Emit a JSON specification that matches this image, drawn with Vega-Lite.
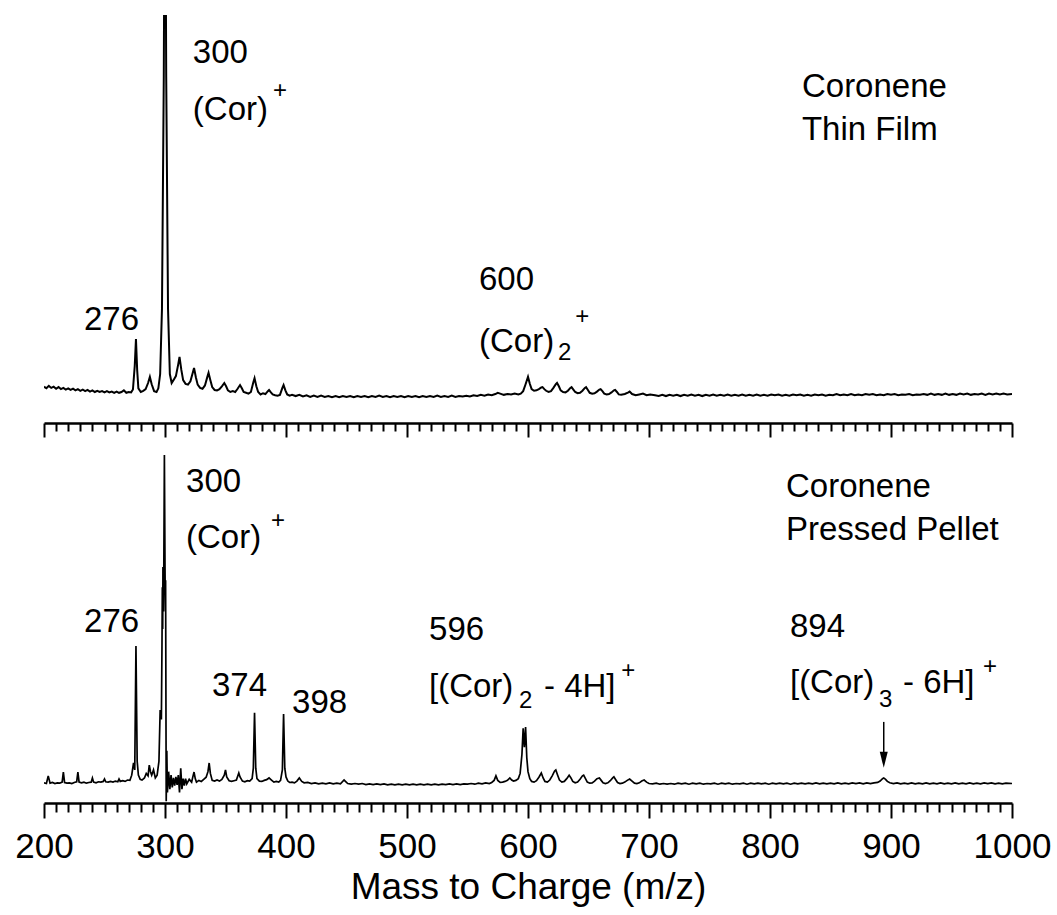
{
"$schema":"https://vega.github.io/schema/vega-lite/v6.json",
"padding":{"left":14,"top":15,"right":5,"bottom":5},
"bounds":"flush",
"spacing":32,
"config":{"view":{"stroke":null},"axis":{"grid":false,"domainColor":"black","domainWidth":2.5,"tickColor":"black","tickWidth":2,"labelColor":"black","titleColor":"black","labelFont":"Liberation Sans","titleFont":"Liberation Sans","labelFontSize":35,"titleFontSize":37,"titleFontWeight":"normal"}},
"datasets":{
"thin":[{"mz":200,"v":8.9},{"mz":202,"v":8.5},{"mz":204,"v":9.1},{"mz":206,"v":8.6},{"mz":208,"v":8.9},{"mz":210,"v":8.4},{"mz":212,"v":8.8},{"mz":214,"v":8.3},{"mz":216,"v":8.6},{"mz":218,"v":8.2},{"mz":220,"v":8.5},{"mz":222,"v":8.1},{"mz":224,"v":8.4},{"mz":226,"v":8.0},{"mz":228,"v":8.3},{"mz":230,"v":7.9},{"mz":232,"v":8.2},{"mz":234,"v":7.8},{"mz":236,"v":8.1},{"mz":238,"v":7.7},{"mz":240,"v":8.0},{"mz":242,"v":7.6},{"mz":244,"v":7.9},{"mz":246,"v":7.6},{"mz":248,"v":7.8},{"mz":250,"v":7.5},{"mz":252,"v":7.8},{"mz":254,"v":7.5},{"mz":256,"v":7.7},{"mz":258,"v":7.4},{"mz":260,"v":7.7},{"mz":262,"v":7.4},{"mz":264,"v":7.6},{"mz":266,"v":8.0},{"mz":268,"v":7.4},{"mz":270,"v":7.6},{"mz":272,"v":7.5},{"mz":273.5,"v":8.2},{"mz":275,"v":14},{"mz":276,"v":20.6},{"mz":277,"v":13},{"mz":278,"v":8.5},{"mz":280,"v":7.6},{"mz":282,"v":7.9},{"mz":284,"v":8.3},{"mz":286,"v":9.8},{"mz":287.5,"v":11.3},{"mz":289,"v":9.5},{"mz":291,"v":7.8},{"mz":293,"v":7.6},{"mz":294.5,"v":8.5},{"mz":296,"v":12},{"mz":297.5,"v":28},{"mz":299,"v":85},{"mz":300,"v":160},{"mz":301,"v":85},{"mz":302.5,"v":28},{"mz":304,"v":12},{"mz":305.5,"v":9.8},{"mz":307,"v":10.5},{"mz":309,"v":11.5},{"mz":311,"v":14.5},{"mz":312,"v":16.2},{"mz":313.5,"v":13},{"mz":315,"v":10.5},{"mz":317,"v":9.6},{"mz":319,"v":9.4},{"mz":321,"v":10.2},{"mz":323,"v":12.4},{"mz":324,"v":13.5},{"mz":325.5,"v":11.2},{"mz":327,"v":9.4},{"mz":329,"v":8.6},{"mz":331,"v":8.4},{"mz":333,"v":9.2},{"mz":335,"v":11.3},{"mz":336,"v":12.3},{"mz":337.5,"v":10.5},{"mz":339,"v":8.8},{"mz":341,"v":8.1},{"mz":343,"v":8.0},{"mz":345,"v":8.3},{"mz":347,"v":9.0},{"mz":349,"v":9.8},{"mz":350.5,"v":9.0},{"mz":352,"v":8.0},{"mz":354,"v":7.6},{"mz":356,"v":7.8},{"mz":358,"v":7.6},{"mz":360,"v":8.4},{"mz":362,"v":9.3},{"mz":363.5,"v":8.5},{"mz":365,"v":7.6},{"mz":367,"v":7.4},{"mz":369,"v":7.2},{"mz":371,"v":7.6},{"mz":373,"v":10.0},{"mz":374,"v":11.0},{"mz":375.5,"v":9.0},{"mz":377,"v":7.6},{"mz":379,"v":7.0},{"mz":381,"v":7.3},{"mz":383,"v":7.1},{"mz":385,"v":7.8},{"mz":386,"v":8.1},{"mz":387.5,"v":7.5},{"mz":389,"v":7.0},{"mz":391,"v":6.8},{"mz":393,"v":6.7},{"mz":395,"v":6.9},{"mz":397,"v":8.6},{"mz":398,"v":9.3},{"mz":399.5,"v":8.0},{"mz":401,"v":7.0},{"mz":403,"v":6.7},{"mz":405,"v":6.9},{"mz":408,"v":6.6},{"mz":411,"v":6.9},{"mz":414,"v":6.5},{"mz":417,"v":6.8},{"mz":420,"v":6.4},{"mz":423,"v":6.7},{"mz":426,"v":6.4},{"mz":429,"v":6.7},{"mz":432,"v":6.4},{"mz":435,"v":6.6},{"mz":438,"v":6.3},{"mz":441,"v":6.6},{"mz":444,"v":6.3},{"mz":447,"v":6.6},{"mz":450,"v":6.4},{"mz":453,"v":6.6},{"mz":456,"v":6.3},{"mz":459,"v":6.6},{"mz":462,"v":6.4},{"mz":465,"v":6.6},{"mz":468,"v":6.3},{"mz":471,"v":6.6},{"mz":474,"v":6.4},{"mz":477,"v":6.7},{"mz":480,"v":6.4},{"mz":483,"v":6.6},{"mz":486,"v":6.3},{"mz":489,"v":6.6},{"mz":492,"v":6.4},{"mz":495,"v":6.6},{"mz":498,"v":6.3},{"mz":501,"v":6.6},{"mz":504,"v":6.4},{"mz":507,"v":6.6},{"mz":510,"v":6.3},{"mz":513,"v":6.6},{"mz":516,"v":6.4},{"mz":519,"v":6.6},{"mz":522,"v":6.4},{"mz":525,"v":6.7},{"mz":528,"v":6.4},{"mz":531,"v":6.6},{"mz":534,"v":6.4},{"mz":537,"v":6.7},{"mz":540,"v":6.4},{"mz":543,"v":6.6},{"mz":546,"v":6.5},{"mz":549,"v":6.7},{"mz":552,"v":6.5},{"mz":555,"v":6.8},{"mz":558,"v":6.6},{"mz":561,"v":6.9},{"mz":564,"v":6.7},{"mz":567,"v":7.0},{"mz":570,"v":6.8},{"mz":573,"v":7.1},{"mz":575,"v":7.4},{"mz":577,"v":7.2},{"mz":580,"v":6.9},{"mz":583,"v":7.1},{"mz":586,"v":7.0},{"mz":589,"v":7.2},{"mz":592,"v":7.0},{"mz":594,"v":7.2},{"mz":596,"v":7.8},{"mz":598,"v":9.5},{"mz":600,"v":11.3},{"mz":601.5,"v":9.6},{"mz":603,"v":8.3},{"mz":605,"v":7.9},{"mz":607,"v":8.0},{"mz":609,"v":8.3},{"mz":611,"v":8.7},{"mz":612,"v":8.8},{"mz":613.5,"v":8.3},{"mz":615,"v":7.9},{"mz":617,"v":7.6},{"mz":619,"v":7.8},{"mz":621,"v":8.6},{"mz":623,"v":9.5},{"mz":624,"v":9.8},{"mz":625.5,"v":9.0},{"mz":627,"v":8.0},{"mz":629,"v":7.6},{"mz":631,"v":7.5},{"mz":633,"v":7.9},{"mz":635,"v":8.6},{"mz":636,"v":8.8},{"mz":637.5,"v":8.2},{"mz":639,"v":7.6},{"mz":641,"v":7.3},{"mz":643,"v":7.4},{"mz":645,"v":7.9},{"mz":647,"v":8.6},{"mz":648,"v":8.8},{"mz":649.5,"v":8.1},{"mz":651,"v":7.4},{"mz":653,"v":7.2},{"mz":655,"v":7.3},{"mz":657,"v":7.7},{"mz":659,"v":8.2},{"mz":660,"v":8.3},{"mz":661.5,"v":7.8},{"mz":663,"v":7.2},{"mz":665,"v":7.0},{"mz":667,"v":7.1},{"mz":669,"v":7.5},{"mz":671,"v":8.0},{"mz":672,"v":8.1},{"mz":673.5,"v":7.6},{"mz":675,"v":7.0},{"mz":677,"v":6.9},{"mz":680,"v":7.1},{"mz":683,"v":7.5},{"mz":684,"v":7.7},{"mz":686,"v":7.1},{"mz":689,"v":6.8},{"mz":692,"v":7.0},{"mz":695,"v":7.2},{"mz":698,"v":6.8},{"mz":701,"v":7.0},{"mz":705,"v":6.8},{"mz":708,"v":6.6},{"mz":711,"v":6.9},{"mz":714,"v":6.6},{"mz":717,"v":6.9},{"mz":720,"v":6.7},{"mz":723,"v":6.9},{"mz":726,"v":6.6},{"mz":729,"v":6.9},{"mz":732,"v":6.7},{"mz":735,"v":7.0},{"mz":738,"v":6.7},{"mz":741,"v":6.9},{"mz":744,"v":6.6},{"mz":747,"v":6.9},{"mz":750,"v":6.7},{"mz":753,"v":7.0},{"mz":756,"v":6.7},{"mz":759,"v":6.9},{"mz":762,"v":6.7},{"mz":765,"v":7.0},{"mz":768,"v":6.7},{"mz":771,"v":6.9},{"mz":774,"v":6.7},{"mz":777,"v":7.0},{"mz":780,"v":6.7},{"mz":783,"v":6.9},{"mz":786,"v":6.7},{"mz":789,"v":7.0},{"mz":792,"v":6.7},{"mz":795,"v":6.9},{"mz":798,"v":6.7},{"mz":801,"v":7.0},{"mz":804,"v":6.8},{"mz":807,"v":7.0},{"mz":810,"v":6.7},{"mz":813,"v":6.9},{"mz":816,"v":6.7},{"mz":819,"v":7.0},{"mz":822,"v":6.8},{"mz":825,"v":7.0},{"mz":828,"v":6.7},{"mz":831,"v":6.9},{"mz":834,"v":6.7},{"mz":837,"v":7.0},{"mz":840,"v":6.8},{"mz":843,"v":7.0},{"mz":846,"v":6.7},{"mz":849,"v":6.9},{"mz":852,"v":6.8},{"mz":855,"v":7.1},{"mz":858,"v":6.8},{"mz":861,"v":7.0},{"mz":864,"v":6.8},{"mz":867,"v":7.1},{"mz":870,"v":6.8},{"mz":873,"v":7.0},{"mz":876,"v":6.8},{"mz":879,"v":7.1},{"mz":882,"v":6.9},{"mz":885,"v":7.1},{"mz":888,"v":6.8},{"mz":891,"v":7.0},{"mz":894,"v":6.8},{"mz":897,"v":7.1},{"mz":900,"v":6.9},{"mz":903,"v":7.1},{"mz":906,"v":6.8},{"mz":909,"v":7.0},{"mz":912,"v":6.9},{"mz":915,"v":7.1},{"mz":918,"v":6.8},{"mz":921,"v":7.0},{"mz":924,"v":6.9},{"mz":927,"v":7.1},{"mz":930,"v":6.9},{"mz":933,"v":7.2},{"mz":936,"v":6.9},{"mz":939,"v":7.1},{"mz":942,"v":6.9},{"mz":945,"v":7.2},{"mz":948,"v":6.9},{"mz":951,"v":7.1},{"mz":954,"v":6.9},{"mz":957,"v":7.2},{"mz":960,"v":7.0},{"mz":963,"v":7.2},{"mz":966,"v":6.9},{"mz":969,"v":7.1},{"mz":972,"v":7.0},{"mz":975,"v":7.2},{"mz":978,"v":6.9},{"mz":981,"v":7.2},{"mz":984,"v":7.0},{"mz":987,"v":7.2},{"mz":990,"v":7.0},{"mz":993,"v":7.2},{"mz":996,"v":7.0},{"mz":1000,"v":7.1}],
"pellet":[{"mz":200,"v":5.8},{"mz":202,"v":5.6},{"mz":203.5,"v":7.8},{"mz":205,"v":5.7},{"mz":207,"v":5.9},{"mz":209,"v":5.6},{"mz":211,"v":5.8},{"mz":213,"v":5.7},{"mz":215,"v":6.0},{"mz":216,"v":8.9},{"mz":217,"v":5.9},{"mz":219,"v":5.7},{"mz":221,"v":5.8},{"mz":223,"v":5.6},{"mz":225,"v":5.9},{"mz":227,"v":6.1},{"mz":228,"v":8.9},{"mz":229,"v":6.0},{"mz":231,"v":5.8},{"mz":233,"v":6.0},{"mz":235,"v":5.7},{"mz":237,"v":5.9},{"mz":239,"v":6.0},{"mz":240,"v":7.2},{"mz":241,"v":6.0},{"mz":243,"v":5.8},{"mz":245,"v":6.1},{"mz":247,"v":6.0},{"mz":249,"v":6.2},{"mz":250,"v":6.9},{"mz":251,"v":6.1},{"mz":253,"v":6.0},{"mz":255,"v":6.2},{"mz":257,"v":6.0},{"mz":259,"v":6.3},{"mz":261,"v":6.1},{"mz":262,"v":6.9},{"mz":263,"v":6.2},{"mz":265,"v":6.4},{"mz":267,"v":6.2},{"mz":269,"v":6.6},{"mz":271,"v":6.5},{"mz":272.5,"v":8.0},{"mz":274,"v":11.5},{"mz":275,"v":9.5},{"mz":276,"v":45.1},{"mz":277,"v":12},{"mz":278,"v":8},{"mz":279.5,"v":6.8},{"mz":281,"v":6.6},{"mz":283,"v":7.2},{"mz":284.5,"v":8.5},{"mz":286,"v":7.8},{"mz":287,"v":10.9},{"mz":288,"v":9.0},{"mz":289,"v":8.0},{"mz":290.5,"v":9.5},{"mz":292,"v":7.2},{"mz":293.5,"v":8.0},{"mz":295,"v":12},{"mz":296,"v":26.7},{"mz":297,"v":24},{"mz":297.5,"v":45},{"mz":297.8,"v":62},{"mz":298.1,"v":50},{"mz":298.3,"v":67.8},{"mz":298.6,"v":55},{"mz":299,"v":66},{"mz":299.5,"v":100},{"mz":300,"v":68},{"mz":300.3,"v":55},{"mz":300.5,"v":64},{"mz":301,"v":0.5},{"mz":301.5,"v":15},{"mz":302,"v":3},{"mz":303,"v":9},{"mz":304,"v":4.0},{"mz":305,"v":8.0},{"mz":306,"v":4.5},{"mz":307,"v":7.2},{"mz":308,"v":5.0},{"mz":309,"v":7.5},{"mz":310,"v":5.2},{"mz":311,"v":8.0},{"mz":312,"v":3.0},{"mz":313,"v":10},{"mz":314,"v":4.0},{"mz":315,"v":7.0},{"mz":316,"v":5.0},{"mz":317,"v":7.0},{"mz":318,"v":5.5},{"mz":320,"v":6.8},{"mz":322,"v":6.0},{"mz":323,"v":7.5},{"mz":324,"v":8.9},{"mz":325,"v":7.0},{"mz":326,"v":6.0},{"mz":328,"v":6.5},{"mz":330,"v":6.2},{"mz":332,"v":6.8},{"mz":334,"v":7.4},{"mz":335.5,"v":9},{"mz":336.5,"v":11.5},{"mz":337.5,"v":8.5},{"mz":339,"v":6.5},{"mz":341,"v":6.3},{"mz":343,"v":6.6},{"mz":345,"v":6.3},{"mz":347,"v":6.8},{"mz":349,"v":8.0},{"mz":350,"v":9.5},{"mz":351,"v":7.5},{"mz":353,"v":6.4},{"mz":355,"v":6.2},{"mz":357,"v":6.4},{"mz":359,"v":6.6},{"mz":361,"v":8.6},{"mz":362,"v":7.5},{"mz":364,"v":6.3},{"mz":366,"v":6.1},{"mz":368,"v":6.4},{"mz":370,"v":6.3},{"mz":372,"v":7.0},{"mz":373,"v":10},{"mz":374,"v":25.9},{"mz":375,"v":10},{"mz":376,"v":7.0},{"mz":378,"v":6.3},{"mz":380,"v":6.2},{"mz":382,"v":6.5},{"mz":384,"v":6.7},{"mz":386,"v":7.2},{"mz":388,"v":6.6},{"mz":390,"v":6.0},{"mz":392,"v":6.2},{"mz":394,"v":6.0},{"mz":395.5,"v":6.5},{"mz":397,"v":9.5},{"mz":398,"v":25.6},{"mz":399,"v":10},{"mz":400,"v":7.5},{"mz":401.5,"v":6.3},{"mz":403,"v":5.9},{"mz":405,"v":6.0},{"mz":407,"v":5.8},{"mz":409,"v":6.3},{"mz":411,"v":7.2},{"mz":413,"v":6.2},{"mz":415,"v":5.8},{"mz":418,"v":5.9},{"mz":421,"v":5.6},{"mz":424,"v":5.8},{"mz":427,"v":5.5},{"mz":430,"v":5.7},{"mz":433,"v":5.5},{"mz":436,"v":5.8},{"mz":439,"v":5.5},{"mz":442,"v":5.7},{"mz":445,"v":5.5},{"mz":448,"v":6.6},{"mz":451,"v":5.6},{"mz":454,"v":5.4},{"mz":457,"v":5.6},{"mz":460,"v":5.4},{"mz":463,"v":5.6},{"mz":466,"v":5.3},{"mz":469,"v":5.5},{"mz":472,"v":5.3},{"mz":475,"v":5.5},{"mz":478,"v":5.3},{"mz":481,"v":5.5},{"mz":484,"v":5.2},{"mz":487,"v":5.4},{"mz":490,"v":5.2},{"mz":493,"v":5.4},{"mz":496,"v":5.2},{"mz":499,"v":5.4},{"mz":502,"v":5.2},{"mz":505,"v":5.4},{"mz":508,"v":5.2},{"mz":511,"v":5.4},{"mz":514,"v":5.2},{"mz":517,"v":5.4},{"mz":520,"v":5.2},{"mz":523,"v":5.4},{"mz":526,"v":5.2},{"mz":529,"v":5.4},{"mz":532,"v":5.3},{"mz":535,"v":5.5},{"mz":538,"v":5.3},{"mz":541,"v":5.5},{"mz":544,"v":5.3},{"mz":547,"v":5.5},{"mz":550,"v":5.4},{"mz":553,"v":5.6},{"mz":556,"v":5.4},{"mz":559,"v":5.7},{"mz":562,"v":5.5},{"mz":565,"v":5.8},{"mz":568,"v":5.6},{"mz":570,"v":5.9},{"mz":572,"v":6.5},{"mz":573.5,"v":7.8},{"mz":575,"v":6.5},{"mz":577,"v":5.9},{"mz":579,"v":6.0},{"mz":581,"v":6.2},{"mz":583,"v":6.5},{"mz":585,"v":7.2},{"mz":586.5,"v":6.6},{"mz":588,"v":6.3},{"mz":590,"v":6.5},{"mz":592,"v":7.0},{"mz":593.5,"v":8.5},{"mz":595,"v":14},{"mz":596,"v":21.5},{"mz":597,"v":16},{"mz":598,"v":21.8},{"mz":599,"v":13},{"mz":600,"v":9.0},{"mz":601.5,"v":7.0},{"mz":603,"v":6.2},{"mz":605,"v":6.0},{"mz":607,"v":6.4},{"mz":609,"v":7.4},{"mz":611,"v":8.6},{"mz":612.5,"v":7.2},{"mz":614,"v":6.2},{"mz":616,"v":6.0},{"mz":618,"v":6.6},{"mz":620,"v":7.8},{"mz":622,"v":9.2},{"mz":623,"v":9.5},{"mz":624.5,"v":8.0},{"mz":626,"v":6.6},{"mz":628,"v":6.0},{"mz":630,"v":6.2},{"mz":632,"v":7.0},{"mz":634,"v":8.0},{"mz":635.5,"v":7.2},{"mz":637,"v":6.2},{"mz":639,"v":5.8},{"mz":641,"v":6.0},{"mz":643,"v":6.8},{"mz":645,"v":7.8},{"mz":646,"v":8.0},{"mz":647.5,"v":7.0},{"mz":649,"v":6.0},{"mz":651,"v":5.7},{"mz":653,"v":5.8},{"mz":655,"v":6.3},{"mz":657,"v":7.0},{"mz":659,"v":7.2},{"mz":660.5,"v":6.5},{"mz":662,"v":5.8},{"mz":664,"v":5.6},{"mz":666,"v":5.8},{"mz":668,"v":6.4},{"mz":670,"v":7.2},{"mz":671,"v":7.5},{"mz":672.5,"v":6.7},{"mz":674,"v":5.9},{"mz":676,"v":5.6},{"mz":678,"v":5.7},{"mz":680,"v":6.0},{"mz":682,"v":6.5},{"mz":684,"v":6.9},{"mz":686,"v":6.3},{"mz":688,"v":5.7},{"mz":690,"v":5.6},{"mz":692,"v":5.8},{"mz":694,"v":6.3},{"mz":696,"v":6.6},{"mz":698,"v":6.0},{"mz":700,"v":5.6},{"mz":703,"v":5.5},{"mz":706,"v":5.7},{"mz":709,"v":5.4},{"mz":712,"v":5.6},{"mz":715,"v":5.4},{"mz":718,"v":5.6},{"mz":721,"v":5.4},{"mz":724,"v":5.7},{"mz":727,"v":5.5},{"mz":730,"v":5.7},{"mz":733,"v":5.4},{"mz":736,"v":5.7},{"mz":739,"v":5.5},{"mz":742,"v":5.7},{"mz":745,"v":5.4},{"mz":748,"v":5.6},{"mz":751,"v":5.5},{"mz":754,"v":5.7},{"mz":757,"v":5.4},{"mz":760,"v":5.7},{"mz":763,"v":5.5},{"mz":766,"v":5.7},{"mz":769,"v":5.4},{"mz":772,"v":5.6},{"mz":775,"v":5.5},{"mz":778,"v":5.7},{"mz":781,"v":5.4},{"mz":784,"v":5.7},{"mz":787,"v":5.5},{"mz":790,"v":5.7},{"mz":793,"v":5.5},{"mz":796,"v":5.7},{"mz":799,"v":5.4},{"mz":802,"v":5.7},{"mz":805,"v":5.5},{"mz":808,"v":5.7},{"mz":811,"v":5.5},{"mz":814,"v":5.7},{"mz":817,"v":5.4},{"mz":820,"v":5.7},{"mz":823,"v":5.5},{"mz":826,"v":5.7},{"mz":829,"v":5.5},{"mz":832,"v":5.7},{"mz":835,"v":5.5},{"mz":838,"v":5.8},{"mz":841,"v":5.5},{"mz":844,"v":5.7},{"mz":847,"v":5.5},{"mz":850,"v":5.7},{"mz":853,"v":5.5},{"mz":856,"v":5.8},{"mz":859,"v":5.5},{"mz":862,"v":5.7},{"mz":865,"v":5.5},{"mz":868,"v":5.8},{"mz":871,"v":5.6},{"mz":874,"v":5.8},{"mz":877,"v":5.5},{"mz":880,"v":5.8},{"mz":883,"v":5.6},{"mz":886,"v":5.8},{"mz":889,"v":5.9},{"mz":891,"v":6.3},{"mz":893,"v":7.0},{"mz":894,"v":7.2},{"mz":895.5,"v":6.8},{"mz":897,"v":6.2},{"mz":899,"v":5.8},{"mz":902,"v":5.6},{"mz":905,"v":5.8},{"mz":908,"v":5.5},{"mz":911,"v":5.7},{"mz":914,"v":5.5},{"mz":917,"v":5.8},{"mz":920,"v":5.5},{"mz":923,"v":5.7},{"mz":926,"v":5.5},{"mz":929,"v":5.8},{"mz":932,"v":5.5},{"mz":935,"v":5.7},{"mz":938,"v":5.5},{"mz":941,"v":5.8},{"mz":944,"v":5.5},{"mz":947,"v":5.7},{"mz":950,"v":5.5},{"mz":953,"v":5.8},{"mz":956,"v":5.5},{"mz":959,"v":5.7},{"mz":962,"v":5.5},{"mz":965,"v":5.8},{"mz":968,"v":5.5},{"mz":971,"v":5.7},{"mz":974,"v":5.5},{"mz":977,"v":5.8},{"mz":980,"v":5.6},{"mz":983,"v":5.8},{"mz":986,"v":5.5},{"mz":989,"v":5.7},{"mz":992,"v":5.5},{"mz":995,"v":5.7},{"mz":1000,"v":5.6}],
"thinText":[{"mz":323,"v":88.2,"t":"300"},{"mz":323,"v":74.3,"t":"(Cor)"},{"mz":233,"v":22.8,"t":"276"},{"mz":559.5,"v":32.6,"t":"600"},{"mz":559.5,"v":17.4,"t":"(Cor)"},{"mz":826.4,"v":79.9,"t":"Coronene"},{"mz":826.4,"v":69.4,"t":"Thin Film"}],
"thinSmall":[{"mz":624.8,"v":15.4,"t":"2"},{"mz":389.3,"v":79.6,"t":"+"},{"mz":639,"v":24.2,"t":"+"}],
"pelletText":[{"mz":317.4,"v":89.4,"t":"300"},{"mz":317.4,"v":73.3,"t":"(Cor)"},{"mz":233.1,"v":49.1,"t":"276"},{"mz":338.8,"v":30.7,"t":"374"},{"mz":405,"v":25.9,"t":"398"},{"mz":518.2,"v":46.8,"t":"596"},{"mz":518.2,"v":30.5,"t":"[(Cor)"},{"mz":613.2,"v":30.5,"t":"- 4H]"},{"mz":816.5,"v":47.7,"t":"894"},{"mz":816.5,"v":31.6,"t":"[(Cor)"},{"mz":909.9,"v":31.6,"t":"- 6H]"},{"mz":813.2,"v":87.9,"t":"Coronene"},{"mz":813.2,"v":75.6,"t":"Pressed Pellet"}],
"pelletSmall":[{"mz":387.6,"v":79.1,"t":"+"},{"mz":592.6,"v":27.3,"t":"2"},{"mz":677,"v":36.0,"t":"+"},{"mz":890.1,"v":27.6,"t":"3"},{"mz":976,"v":37.2,"t":"+"}],
"arrowLine":[{"mz":894,"v":23.3,"v2":13.5}],
"arrowHead":[{"mz":894,"v":12.4}]
},
"vconcat":[
{"width":968,"height":408,
"encoding":{"x":{"field":"mz","type":"quantitative","scale":{"domain":[200,1000],"nice":false,"zero":false},
"axis":{"values":[200,210,220,230,240,250,260,270,280,290,300,310,320,330,340,350,360,370,380,390,400,410,420,430,440,450,460,470,480,490,500,510,520,530,540,550,560,570,580,590,600,610,620,630,640,650,660,670,680,690,700,710,720,730,740,750,760,770,780,790,800,810,820,830,840,850,860,870,880,890,900,910,920,930,940,950,960,970,980,990,1000],"labels":false,"title":null,"tickSize":{"condition":{"test":"datum.value % 100 === 0","value":14},"value":8}}},
"y":{"field":"v","type":"quantitative","scale":{"domain":[0,100],"nice":false,"zero":false},"axis":null}},
"layer":[
{"data":{"name":"thin"},"mark":{"type":"line","clip":true,"color":"black","strokeWidth":2}},
{"data":{"name":"thinText"},"mark":{"type":"text","align":"left","baseline":"alphabetic","font":"Liberation Sans","fontSize":33,"color":"black"},"encoding":{"text":{"field":"t"}}},
{"data":{"name":"thinSmall"},"mark":{"type":"text","align":"left","baseline":"alphabetic","font":"Liberation Sans","fontSize":24,"color":"black"},"encoding":{"text":{"field":"t"}}}
]},
{"width":968,"height":348,
"encoding":{"x":{"field":"mz","type":"quantitative","scale":{"domain":[200,1000],"nice":false,"zero":false},
"axis":{"values":[200,210,220,230,240,250,260,270,280,290,300,310,320,330,340,350,360,370,380,390,400,410,420,430,440,450,460,470,480,490,500,510,520,530,540,550,560,570,580,590,600,610,620,630,640,650,660,670,680,690,700,710,720,730,740,750,760,770,780,790,800,810,820,830,840,850,860,870,880,890,900,910,920,930,940,950,960,970,980,990,1000],"format":"d","labelExpr":"datum.value % 100 === 0 ? datum.label : ''","labelFlush":false,"labelOverlap":false,"labelPadding":11,"title":"Mass to Charge (m/z)","titlePadding":5,"tickSize":{"condition":{"test":"datum.value % 100 === 0","value":15},"value":9}}},
"y":{"field":"v","type":"quantitative","scale":{"domain":[0,100],"nice":false,"zero":false},"axis":null}},
"layer":[
{"data":{"name":"pellet"},"mark":{"type":"line","clip":true,"color":"black","strokeWidth":1.7}},
{"data":{"name":"pelletText"},"mark":{"type":"text","align":"left","baseline":"alphabetic","font":"Liberation Sans","fontSize":33,"color":"black"},"encoding":{"text":{"field":"t"}}},
{"data":{"name":"pelletSmall"},"mark":{"type":"text","align":"left","baseline":"alphabetic","font":"Liberation Sans","fontSize":24,"color":"black"},"encoding":{"text":{"field":"t"}}},
{"data":{"name":"arrowLine"},"mark":{"type":"rule","color":"black","strokeWidth":1.5},"encoding":{"y2":{"field":"v2"}}},
{"data":{"name":"arrowHead"},"mark":{"type":"point","shape":"M-0.5,-1L0.5,-1L0,1Z","size":256,"filled":true,"color":"black","opacity":1}}
]}
]
}
